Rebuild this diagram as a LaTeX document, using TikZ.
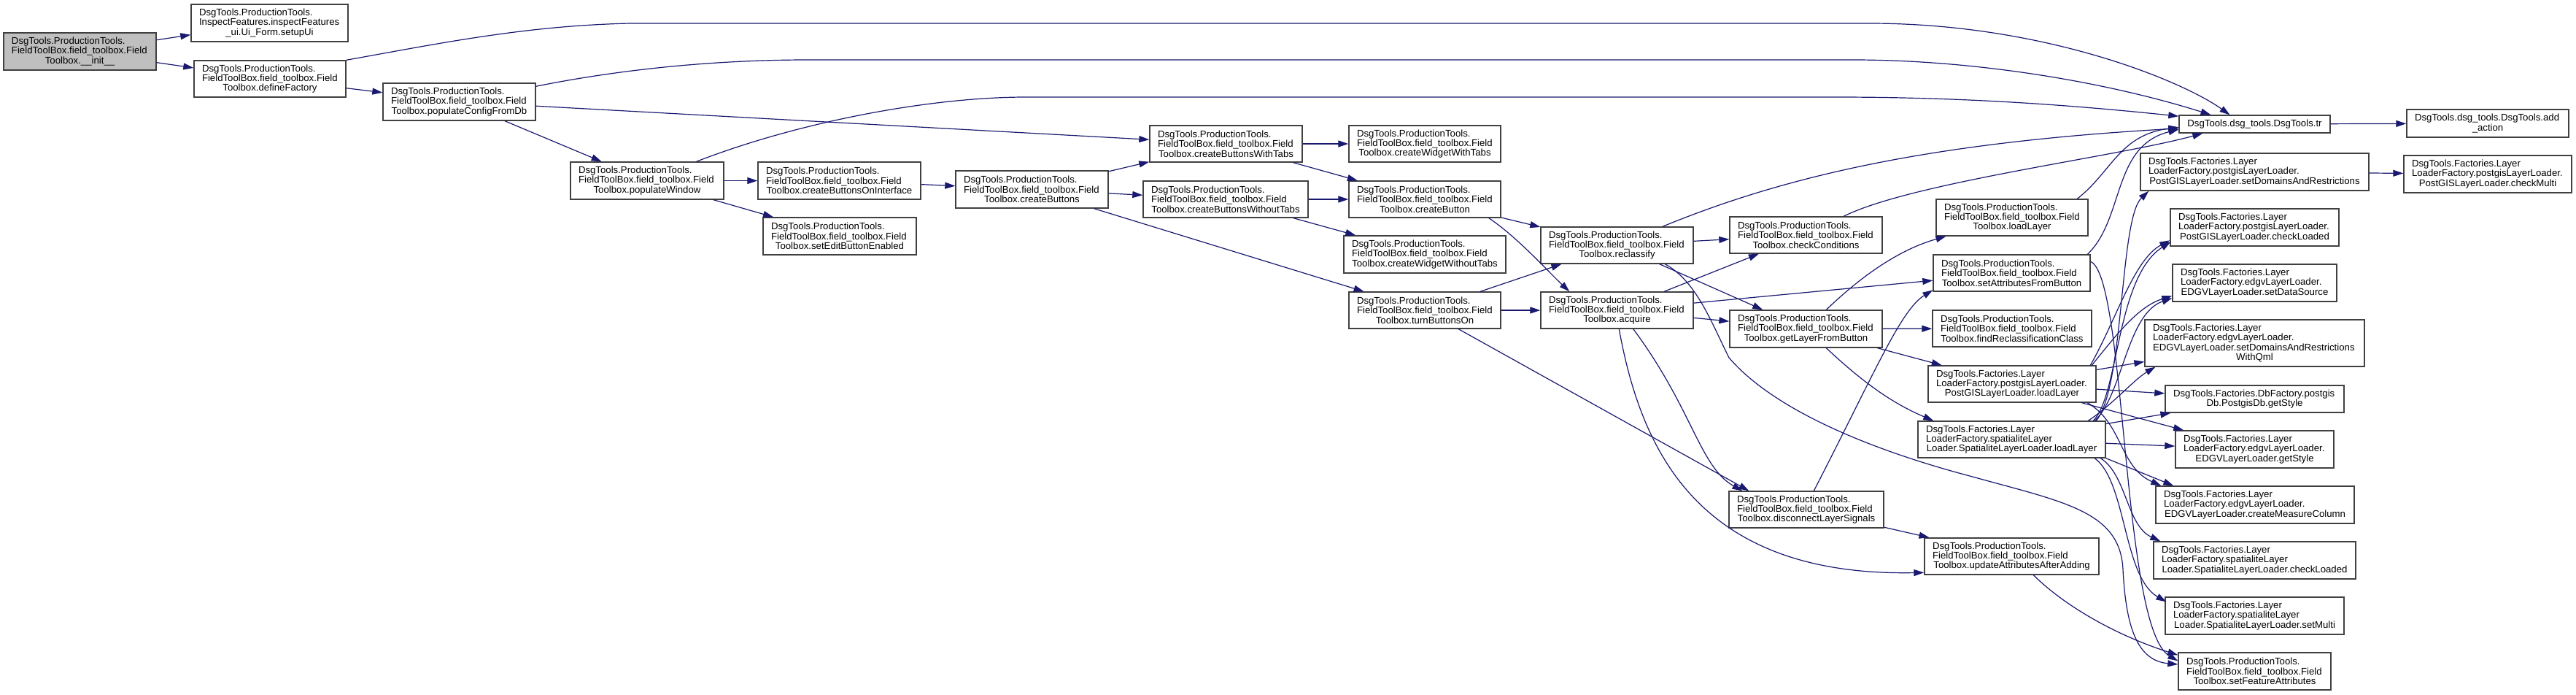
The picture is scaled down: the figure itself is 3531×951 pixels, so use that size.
\documentclass[tikz,border=0pt]{standalone}
\usepackage{fontspec}
\setmainfont{Liberation Sans}
\usetikzlibrary{arrows.meta}
\definecolor{bord}{HTML}{404040}
\definecolor{edgec}{HTML}{191970}
\definecolor{initfill}{HTML}{BFBFBF}
\newcommand\lineL[1]{\makebox[\hsize][l]{#1}\\}
\newcommand\lineC[1]{\makebox[\hsize][c]{#1}}
\newcommand\ftb[1]{\lineL{DsgTools.ProductionTools.}\lineL{FieldToolBox.field\_toolbox.Field}\lineC{Toolbox.#1}}
\newcommand\mknode[7][]{%
  \pgfmathsetmacro\mkW{#5-#3}%
  \pgfmathsetmacro\mkH{#6-#4}%
  \pgfmathsetmacro\mkT{#5-#3-22}%
  \pgfmathsetmacro\mkX{(#3+#5)/2}%
  \pgfmathsetmacro\mkY{(#4+#6)/2}%
  \node[cgbox,#1,minimum width=\mkW pt,minimum height=\mkH pt,text width=\mkT pt] (#2) at (\mkX,\mkY) {#7};}
\begin{document}
\begin{tikzpicture}[x=1pt,y=-1pt,
  cgbox/.style={draw=bord,line width=1.4pt,fill=white,rectangle,inner xsep=11pt,inner ysep=0pt,align=left,font=\fontsize{13.2}{13.3}\selectfont},
  ed/.style={draw=edgec,line width=1.2pt,-{Triangle[length=14pt,width=9pt]}}]
\fill[white] (0,0) rectangle (3531,951);
\useasboundingbox (0,0) rectangle (3531,951);
% nodes
\mknode[fill=initfill]{init}{5}{45}{214}{96}{\ftb{\_\_init\_\_}}
\mknode{setupUi}{262}{6}{477}{57}{\lineL{DsgTools.ProductionTools.}\lineL{InspectFeatures.inspectFeatures}\lineC{\_ui.Ui\_Form.setupUi}}
\mknode{defineFactory}{266}{83}{474}{133}{\ftb{defineFactory}}
\mknode{popConfig}{525}{114}{734}{165}{\ftb{populateConfigFromDb}}
\mknode{populateWindow}{782}{222}{992}{273}{\ftb{populateWindow}}
\mknode{cbOnInterface}{1039}{222}{1262}{273}{\ftb{createButtonsOnInterface}}
\mknode{setEditBtn}{1046}{298}{1256}{349}{\ftb{setEditButtonEnabled}}
\mknode{createButtons}{1310}{234}{1519}{285}{\ftb{createButtons}}
\mknode{cbWithTabs}{1576}{172}{1785}{222}{\ftb{createButtonsWithTabs}}
\mknode{cwWithTabs}{1849}{172}{2057}{222}{\ftb{createWidgetWithTabs}}
\mknode{cbWithoutTabs}{1567}{248}{1793}{298}{\ftb{createButtonsWithoutTabs}}
\mknode{createButton}{1849}{248}{2057}{298}{\ftb{createButton}}
\mknode{cwWithoutTabs}{1842}{323}{2064}{374}{\ftb{createWidgetWithoutTabs}}
\mknode{turnOn}{1849}{400}{2057}{450}{\ftb{turnButtonsOn}}
\mknode{reclassify}{2112}{311}{2321}{361}{\ftb{reclassify}}
\mknode{acquire}{2112}{400}{2321}{450}{\ftb{acquire}}
\mknode{checkCond}{2371}{297}{2580}{347}{\ftb{checkConditions}}
\mknode{getLayer}{2371}{425}{2580}{476}{\ftb{getLayerFromButton}}
\mknode{disconnect}{2370}{673}{2582}{723}{\ftb{disconnectLayerSignals}}
\mknode{loadLayerFT}{2654}{273}{2862}{323}{\ftb{loadLayer}}
\mknode{setAttr}{2650}{349}{2865}{399}{\ftb{setAttributesFromButton}}
\mknode{findReclass}{2649}{425}{2867}{475}{\ftb{findReclassificationClass}}
\mknode{pgLoad}{2643}{501}{2873}{551}{\lineL{DsgTools.Factories.Layer}\lineL{LoaderFactory.postgisLayerLoader.}\lineC{PostGISLayerLoader.loadLayer}}
\mknode{slLoad}{2629}{577}{2886}{627}{\lineL{DsgTools.Factories.Layer}\lineL{LoaderFactory.spatialiteLayer}\lineC{Loader.SpatialiteLayerLoader.loadLayer}}
\mknode{updAttr}{2638}{737}{2877}{787}{\ftb{updateAttributesAfterAdding}}
\mknode{tr}{2987}{158}{3194}{182}{\lineC{DsgTools.dsg\_tools.DsgTools.tr}}
\mknode{addAction}{3299}{150}{3521}{188}{\lineL{DsgTools.dsg\_tools.DsgTools.add}\lineC{\_action}}
\mknode{pgSetDom}{2934}{210}{3247}{261}{\lineL{DsgTools.Factories.Layer}\lineL{LoaderFactory.postgisLayerLoader.}\lineC{PostGISLayerLoader.setDomainsAndRestrictions}}
\mknode{pgCheckMulti}{3295}{213}{3525}{264}{\lineL{DsgTools.Factories.Layer}\lineL{LoaderFactory.postgisLayerLoader.}\lineC{PostGISLayerLoader.checkMulti}}
\mknode{pgCheckLoaded}{2975}{286}{3206}{337}{\lineL{DsgTools.Factories.Layer}\lineL{LoaderFactory.postgisLayerLoader.}\lineC{PostGISLayerLoader.checkLoaded}}
\mknode{edgvSetDS}{2978}{362}{3203}{413}{\lineL{DsgTools.Factories.Layer}\lineL{LoaderFactory.edgvLayerLoader.}\lineC{EDGVLayerLoader.setDataSource}}
\mknode{edgvSetDomQml}{2940}{438}{3241}{502}{\lineL{DsgTools.Factories.Layer}\lineL{LoaderFactory.edgvLayerLoader.}\lineL{EDGVLayerLoader.setDomainsAndRestrictions}\lineC{WithQml}}
\mknode{pgdbStyle}{2968}{528}{3213}{565}{\lineL{DsgTools.Factories.DbFactory.postgis}\lineC{Db.PostgisDb.getStyle}}
\mknode{edgvStyle}{2982}{590}{3199}{641}{\lineL{DsgTools.Factories.Layer}\lineL{LoaderFactory.edgvLayerLoader.}\lineC{EDGVLayerLoader.getStyle}}
\mknode{edgvMeasure}{2955}{666}{3227}{717}{\lineL{DsgTools.Factories.Layer}\lineL{LoaderFactory.edgvLayerLoader.}\lineC{EDGVLayerLoader.createMeasureColumn}}
\mknode{slCheckLoaded}{2952}{742}{3229}{793}{\lineL{DsgTools.Factories.Layer}\lineL{LoaderFactory.spatialiteLayer}\lineC{Loader.SpatialiteLayerLoader.checkLoaded}}
\mknode{slSetMulti}{2968}{818}{3213}{869}{\lineL{DsgTools.Factories.Layer}\lineL{LoaderFactory.spatialiteLayer}\lineC{Loader.SpatialiteLayerLoader.setMulti}}
\mknode{setFA}{2986}{894}{3195}{945}{\ftb{setFeatureAttributes}}
% edges
\draw[ed] (init) -- (setupUi);
\draw[ed] (init) -- (defineFactory);
\draw[ed] (defineFactory.north east) .. controls (600,60) and (720,35) .. (864,32) -- (2563,32) .. controls (2800,32) and (2990,110) .. ([shift={(-34,0)}]tr.north);
\draw[ed] (defineFactory) -- (popConfig);
\draw[ed] (popConfig) .. controls (850,95) and (980,82) .. (1107,82) -- (2540,82) .. controls (2700,82) and (2880,110) .. ([shift={(-60,0)}]tr.north);
\draw[ed] (popConfig) -- (cbWithTabs);
\draw[ed] (popConfig) -- (populateWindow);
\draw[ed] (populateWindow) .. controls (1100,165) and (1280,133) .. (1406,133) -- (2517,133) .. controls (2700,133) and (2850,145) .. (tr);
\draw[ed] (populateWindow) -- (cbOnInterface);
\draw[ed] (populateWindow) -- (setEditBtn);
\draw[ed] (cbOnInterface) -- (createButtons);
\draw[ed] (createButtons) -- (cbWithTabs);
\draw[ed] (createButtons) -- (cbWithoutTabs);
\draw[ed] (createButtons) -- (turnOn);
\draw[ed] (cbWithTabs) -- (cwWithTabs);
\draw[ed] (cbWithTabs) -- (createButton);
\draw[ed] (cbWithoutTabs) -- (createButton);
\draw[ed] (cbWithoutTabs) -- (cwWithoutTabs);
\draw[ed] (createButton) -- (reclassify);
\draw[ed] ([shift={(192.5,0)}]createButton.south west) .. controls (2080,325) and (2120,370) .. ([shift={(40,0)}]acquire.north west);
\draw[ed] (turnOn) -- (reclassify);
\draw[ed] (turnOn) -- (acquire);
\draw[ed] (turnOn) -- ([shift={(28,0)}]disconnect.north west);
\draw[ed] (reclassify) .. controls (2450,240) and (2650,195) .. (tr);
\draw[ed] (reclassify) -- (checkCond);
\draw[ed] (reclassify) -- (getLayer);
\draw[ed] ([shift={(171,0)}]reclassify.south west) .. controls (2325,385) and (2345,440) .. (2370,490) .. controls (2430,560) and (2560,615) .. (2700,652) .. controls (2830,688) and (2906,700) .. (2910,780) .. controls (2914,860) and (2930,905) .. (setFA);
\draw[ed] (acquire) -- (checkCond);
\draw[ed] (acquire) -- (setAttr);
\draw[ed] (acquire) -- (getLayer);
\draw[ed] ([shift={(127.5,0)}]acquire.south west) .. controls (2320,560) and (2330,640) .. ([shift={(19,0)}]disconnect.north west);
\draw[ed] ([shift={(108,0)}]acquire.south west) .. controls (2250,620) and (2330,790) .. ([shift={(0,48)}]updAttr.north west);
\draw[ed] (checkCond) .. controls (2620,250) and (2900,215) .. ([shift={(33,0)}]tr.south west);
\draw[ed] ([shift={(133,0)}]getLayer.north west) .. controls (2560,370) and (2610,340) .. (loadLayerFT);
\draw[ed] (getLayer) -- (findReclass);
\draw[ed] (getLayer) -- (pgLoad);
\draw[ed] ([shift={(133,0)}]getLayer.south west) .. controls (2560,530) and (2600,555) .. ([shift={(22,0)}]slLoad.north west);
\draw[ed] ([shift={(117,0)}]disconnect.north west) .. controls (2570,510) and (2605,425) .. ([shift={(0,49)}]setAttr.north west);
\draw[ed] (disconnect) -- (updAttr);
\draw[ed] ([shift={(150,0)}]updAttr.south west) .. controls (2830,830) and (2900,870) .. ([shift={(0,4)}]setFA.north west);
\draw[ed] ([shift={(194,0)}]loadLayerFT.north west) .. controls (2895,235) and (2905,185) .. ([shift={(0,17)}]tr.north west);
\draw[ed] ([shift={(212,0)}]setAttr.north west) .. controls (2912,300) and (2895,200) .. ([shift={(0,20)}]tr.north west);
\draw[ed] ([shift={(0,10)}]setAttr.north east) .. controls (2915,380) and (2908,860) .. ([shift={(0,12)}]setFA.north west);
\draw[ed] (tr) -- (addAction);
\draw[ed] (pgSetDom) -- (pgCheckMulti);
\draw[ed] ([shift={(223,0)}]pgLoad.north west) .. controls (2900,440) and (2925,355) .. ([shift={(0,44)}]pgCheckLoaded.north west);
\draw[ed] ([shift={(225,0)}]pgLoad.north west) .. controls (2900,460) and (2930,420) .. ([shift={(0,44)}]edgvSetDS.north west);
\draw[ed] (pgLoad) -- (edgvSetDomQml);
\draw[ed] (pgLoad) -- (pgdbStyle);
\draw[ed] (pgLoad) -- (edgvStyle);
\draw[ed] ([shift={(219,0)}]pgLoad.south west) .. controls (2910,580) and (2905,640) .. ([shift={(8,0)}]edgvMeasure.north west);
\draw[ed] ([shift={(234,0)}]slLoad.north west) .. controls (2895,555) and (2925,520) .. ([shift={(15,0)}]edgvSetDomQml.south west);
\draw[ed] ([shift={(241,0)}]slLoad.north west) .. controls (2905,540) and (2900,380) .. ([shift={(1,46)}]pgCheckLoaded.north west);
\draw[ed] ([shift={(243,0)}]slLoad.north west) .. controls (2910,540) and (2915,430) .. ([shift={(0,47)}]edgvSetDS.north west);
\draw[ed] ([shift={(245,0)}]slLoad.north west) .. controls (2912,530) and (2905,300) .. ([shift={(12,0)}]pgSetDom.south west);
\draw[ed] (slLoad) -- (pgdbStyle);
\draw[ed] (slLoad) -- (edgvStyle);
\draw[ed] (slLoad.south east) -- ([shift={(25,0)}]edgvMeasure.north west);
\draw[ed] ([shift={(251,0)}]slLoad.south west) .. controls (2915,650) and (2915,720) .. ([shift={(10,0)}]slCheckLoaded.north west);
\draw[ed] ([shift={(243,0)}]slLoad.south west) .. controls (2915,660) and (2910,790) .. ([shift={(2,7)}]slSetMulti.north west);
\end{tikzpicture}
\end{document}
